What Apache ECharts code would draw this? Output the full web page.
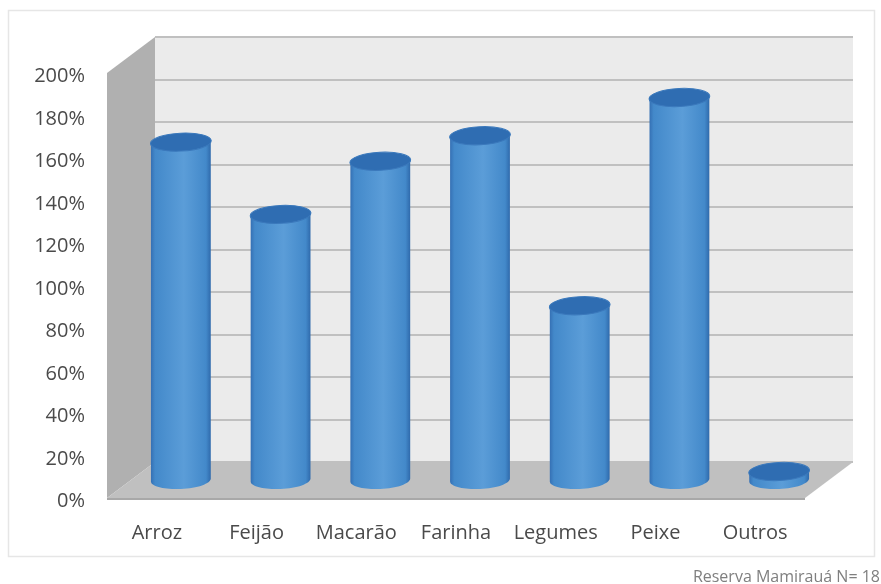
<!DOCTYPE html>
<html>
<head>
<meta charset="utf-8">
<style>html,body{margin:0;padding:0;background:#fff}#chart{width:881px;height:584px}</style>
<script src="https://cdn.jsdelivr.net/npm/echarts@6/dist/echarts.min.js"></script>
</head>
<body>
<div id="chart"></div>
<script>
// Food items and the share of households reporting each one (%)
const categories = ['Arroz', 'Feijão', 'Macarão', 'Farinha', 'Legumes', 'Peixe', 'Outros'];
const values = [159, 125, 150, 162, 82, 180, 4];
const axisMax = 200;
const axisStep = 20;

// Depth of the 3D box in screen pixels
const depthX = 48;
const depthY = 36;

const chart = echarts.init(document.getElementById('chart'), null, { renderer: 'canvas' });

const labelColor = '#4a4a4a';
const font = '"Open Sans", Lato, sans-serif';

function poly(points, fill) {
  return { type: 'polygon', shape: { points }, style: { fill } };
}

// Left wall and floor of the box
function renderFrame(params, api) {
  const n = categories.length;
  const a = api.coord([0, 0]);
  const t = api.coord([0, axisMax]);
  const bw = api.size([1, 0])[0];
  const left = a[0] - bw / 2;
  const right = left + bw * n;
  const y0 = a[1];
  const y1 = t[1];
  return {
    type: 'group',
    children: [
      poly([[left, y0], [left, y1], [left + depthX, y1 - depthY], [left + depthX, y0 - depthY]], '#b0b0b0'),
      poly([[left, y0], [right, y0], [right + depthX, y0 - depthY], [left + depthX, y0 - depthY]], '#c0c0c0'),
      { type: 'line', shape: { x1: left, y1: y0 + 1, x2: right, y2: y0 + 1 }, style: { stroke: '#a8a8a8', lineWidth: 2 } }
    ]
  };
}

// One cylinder standing halfway into the box; its rims lean slightly with the perspective
function renderCylinder(params, api) {
  const cat = api.value(0);
  const val = api.value(1);
  const bw = api.size([1, 0])[0];
  const base = api.coord([cat, 0]);
  const top = api.coord([cat, val]);
  const cx = base[0] + depthX / 2;
  const rx = bw * 0.3;
  const ry = 9;
  const yb = base[1] - depthY / 2;
  const yt = top[1] - depthY / 2;
  const lean = 1.5;
  const bodyFill = new echarts.graphic.LinearGradient(0, 0, 1, 0, [
    { offset: 0, color: '#3570b4' },
    { offset: 0.07, color: '#4389ca' },
    { offset: 0.55, color: '#5b9dd8' },
    { offset: 0.92, color: '#4389ca' },
    { offset: 1, color: '#2f6aac' }
  ]);
  const k = 0.5523;
  const body = [
    'M', cx - rx, yt + lean,
    'L', cx - rx, yb + lean,
    'C', cx - rx, yb + lean + ry * k, cx - rx * k, yb + ry + 0.5, cx, yb + ry,
    'C', cx + rx * k, yb + ry - 0.5, cx + rx, yb - lean + ry * k, cx + rx, yb - lean,
    'L', cx + rx, yt - lean,
    'Z'
  ].join(' ');
  return {
    type: 'group',
    children: [
      { type: 'path', shape: { pathData: body }, style: { fill: bodyFill } },
      { type: 'ellipse', x: cx, y: yt, rotation: Math.atan2(lean, rx),
        shape: { cx: 0, cy: 0, rx: rx + 0.5, ry },
        style: { fill: '#2f6db2', stroke: '#3b79bc', lineWidth: 1 } }
    ]
  };
}

const axisText = { color: labelColor, fontFamily: font, fontWeight: 500 };

chart.setOption({
  animation: false,
  backgroundColor: '#ffffff',
  graphic: [
    { type: 'rect', z: -10, shape: { x: 8.5, y: 10.5, width: 866, height: 546 },
      style: { fill: '#fff', stroke: '#e6e6e6', lineWidth: 1.5 } },
    { type: 'text', right: 1, top: 569, z: 5,
      style: { text: 'Reserva Mamirauá N= 18', fill: '#7f7f7f', fontFamily: font, fontSize: 16 } }
  ],
  grid: [
    { left: 107, top: 73, width: 698, height: 425, show: false },
    { left: 155, top: 37, width: 698, height: 425, show: true, backgroundColor: '#ebebeb', borderWidth: 0 }
  ],
  xAxis: [
    { type: 'category', gridIndex: 0, data: categories,
      axisLine: { show: false }, axisTick: { show: false },
      axisLabel: { ...axisText, fontSize: 20, margin: 25, interval: 0 } },
    { type: 'category', gridIndex: 1, data: categories, show: false }
  ],
  yAxis: [
    { type: 'value', gridIndex: 0, min: 0, max: axisMax, interval: axisStep,
      axisLine: { show: false }, axisTick: { show: false }, splitLine: { show: false },
      axisLabel: { ...axisText, fontSize: 20, margin: 22, verticalAlign: 'top', lineHeight: 7, formatter: '{value}%' } },
    { type: 'value', gridIndex: 1, min: 0, max: axisMax, interval: axisStep,
      axisLine: { show: false }, axisTick: { show: false }, axisLabel: { show: false },
      splitLine: { show: true, lineStyle: { color: '#c0c0c0', width: 2 } } }
  ],
  series: [
    { type: 'custom', xAxisIndex: 0, yAxisIndex: 0, z: 2, silent: true,
      renderItem: renderFrame, data: [[0, 0]], clip: false },
    { type: 'custom', name: 'Consumo', xAxisIndex: 0, yAxisIndex: 0, z: 3, silent: true,
      renderItem: renderCylinder, clip: false,
      encode: { x: 0, y: 1 },
      data: values.map((v, i) => [i, v]) }
  ]
});
</script>
</body>
</html>
